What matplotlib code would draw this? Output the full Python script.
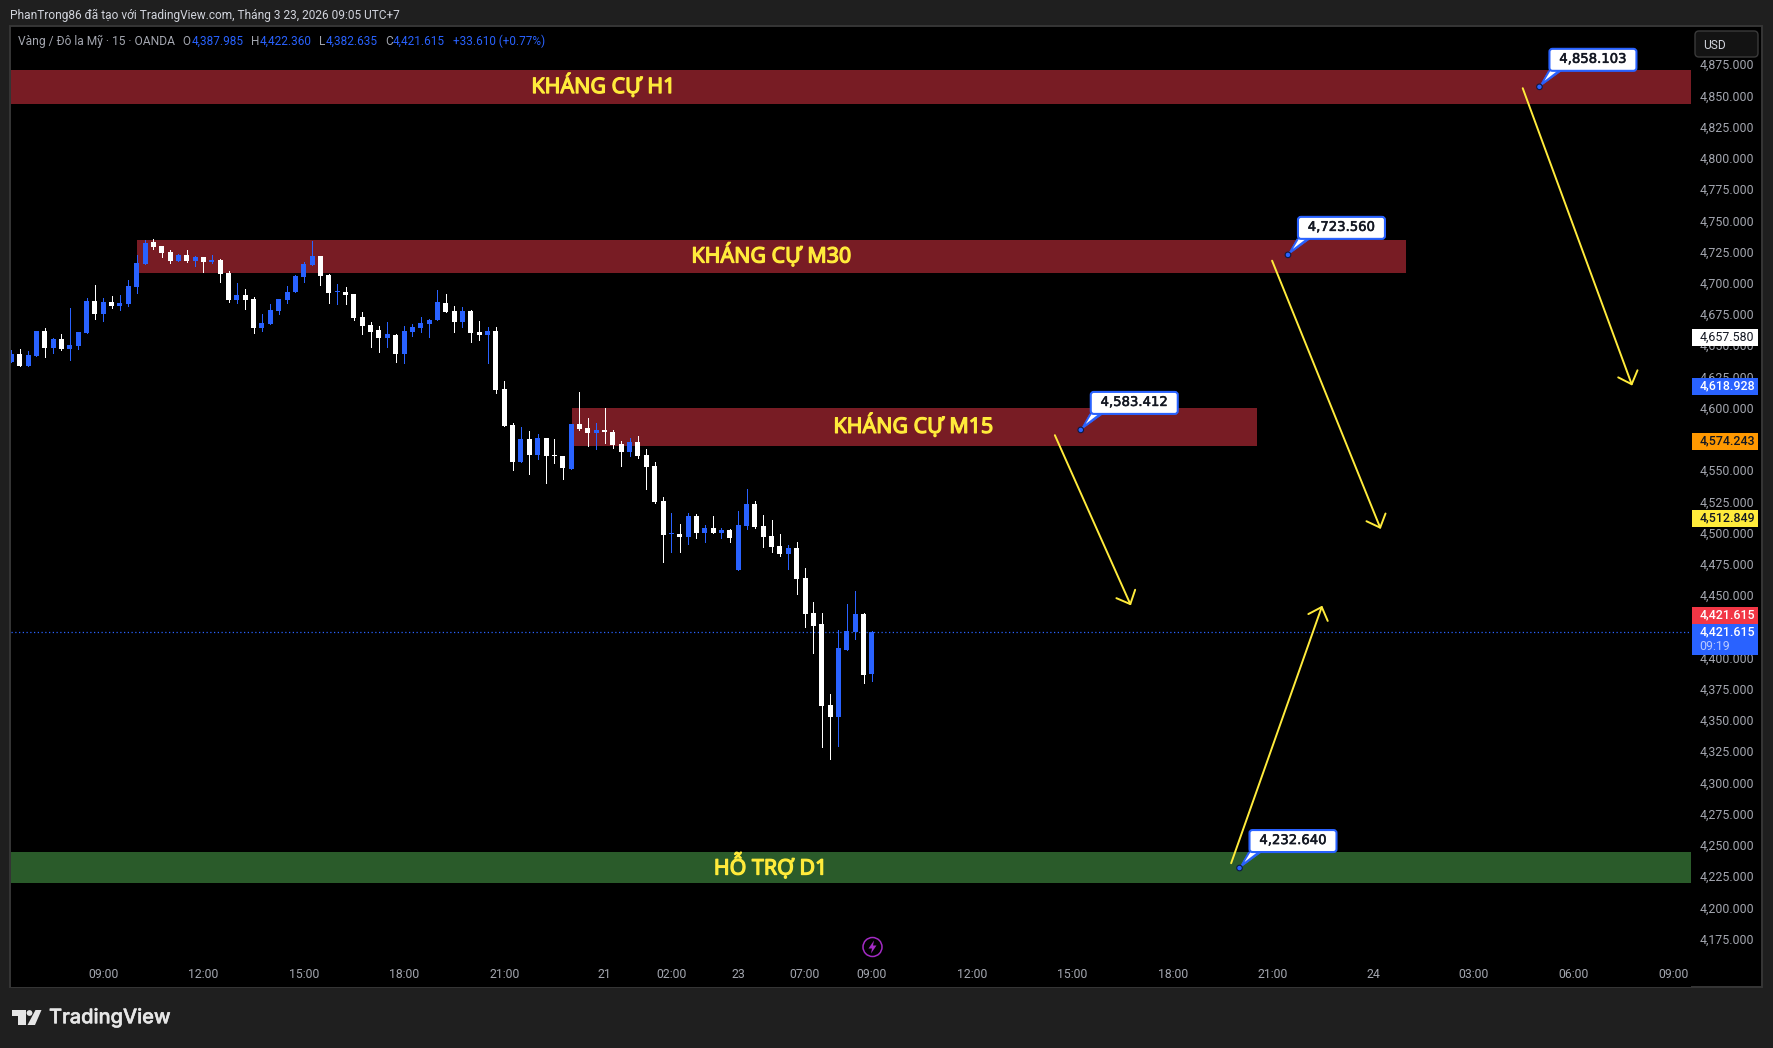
#!/usr/bin/env python3
import matplotlib
matplotlib.use('Agg')
import matplotlib.pyplot as plt
import matplotlib.patheffects as pe
from matplotlib.patches import Rectangle, FancyBboxPatch, Polygon, Circle
from matplotlib.transforms import Affine2D

W, H = 1773, 1048
BG = '#1f1f1f'
BLUE = '#2962ff'
YELLOW = '#ffeb3b'
GREY = '#a3a6af'
FONT = ['Roboto', 'DejaVu Sans']

# Candles, left to right, 15 minute bars
opens = [4637.8, 4644.2, 4634.6, 4642.6, 4662.6, 4649.0, 4656.2, 4648.2, 4650.6, 4661.0,
         4686.6, 4676.2, 4685.8, 4682.6, 4684.2, 4697.9, 4716.3, 4733.9, 4730.7, 4725.9,
         4718.7, 4723.5, 4718.7, 4721.9, 4717.9, 4719.5, 4709.1, 4687.4, 4691.4, 4688.2,
         4665.0, 4668.2, 4678.6, 4687.4, 4693.8, 4705.9, 4715.5, 4722.7, 4707.5, 4693.8,
         4693.8, 4692.2, 4673.8, 4667.4, 4663.4, 4657.0, 4659.4, 4644.2, 4661.8, 4665.0,
         4668.2, 4671.4, 4685.0, 4678.6, 4669.8, 4678.6, 4661.8, 4659.4, 4662.6, 4616.2,
         4587.4, 4557.7, 4576.2, 4563.3, 4577.0, 4563.3, 4562.5, 4552.1, 4588.2, 4585.0,
         4581.0, 4583.4, 4581.8, 4572.2, 4565.8, 4573.8, 4563.4, 4554.5, 4526.5, 4500.1,
         4500.1, 4497.7, 4514.5, 4500.9, 4504.9, 4500.9, 4503.3, 4471.3, 4506.5, 4524.1,
         4506.5, 4498.5, 4490.5, 4484.1, 4488.9, 4464.9, 4436.8, 4428.0, 4363.2, 4353.6,
         4407.2, 4421.6, 4436.0, 4387.985]
highs = [4647.4, 4648.2, 4646.6, 4662.6, 4665.0, 4657.0, 4660.2, 4681.0, 4661.8, 4689.0,
         4699.5, 4689.0, 4690.6, 4691.4, 4703.5, 4723.5, 4735.5, 4736.3, 4730.7, 4727.5,
         4724.3, 4727.5, 4722.7, 4721.9, 4723.5, 4720.3, 4710.7, 4701.1, 4696.3, 4689.8,
         4676.2, 4684.2, 4688.2, 4698.7, 4707.5, 4717.9, 4734.7, 4722.7, 4708.3, 4700.3,
         4697.9, 4692.2, 4677.8, 4669.8, 4666.6, 4669.8, 4660.2, 4666.6, 4668.2, 4673.8,
         4672.2, 4695.4, 4692.2, 4682.6, 4681.8, 4679.4, 4670.6, 4665.8, 4665.8, 4622.6,
         4589.0, 4585.8, 4582.6, 4580.2, 4577.0, 4576.2, 4562.5, 4588.2, 4613.8, 4593.0,
         4589.0, 4601.0, 4583.4, 4574.6, 4577.0, 4578.6, 4568.2, 4557.7, 4529.7, 4516.9,
         4508.1, 4516.9, 4516.1, 4507.3, 4514.5, 4504.9, 4504.1, 4518.5, 4536.1, 4526.5,
         4515.3, 4511.3, 4500.1, 4491.3, 4493.7, 4472.9, 4445.6, 4436.8, 4372.0, 4423.2,
         4444.0, 4454.5, 4436.8, 4422.36]
lows = [4637.8, 4634.6, 4634.6, 4642.6, 4641.8, 4645.0, 4647.4, 4639.4, 4648.2, 4661.0,
        4672.2, 4670.6, 4681.0, 4679.4, 4682.6, 4693.0, 4716.3, 4728.3, 4721.9, 4717.1,
        4718.7, 4717.9, 4714.7, 4709.9, 4717.1, 4701.9, 4685.8, 4685.0, 4680.2, 4661.0,
        4662.6, 4668.2, 4676.2, 4685.0, 4693.8, 4701.9, 4715.5, 4699.5, 4685.0, 4684.2,
        4684.2, 4671.4, 4660.2, 4649.8, 4645.8, 4649.8, 4637.8, 4637.0, 4658.6, 4661.8,
        4657.8, 4671.4, 4677.8, 4661.8, 4665.8, 4653.8, 4655.4, 4637.0, 4613.0, 4586.6,
        4551.3, 4557.7, 4548.1, 4560.1, 4540.9, 4556.9, 4544.1, 4552.1, 4583.4, 4570.6,
        4568.2, 4573.0, 4569.0, 4554.5, 4562.6, 4561.0, 4536.1, 4524.9, 4477.7, 4485.7,
        4485.7, 4492.1, 4496.9, 4493.7, 4500.9, 4496.9, 4493.7, 4471.3, 4504.1, 4504.9,
        4489.7, 4485.7, 4482.5, 4472.1, 4452.1, 4425.6, 4404.8, 4329.6, 4320.0, 4330.4,
        4407.2, 4416.0, 4380.8, 4382.635]
closes = [4644.2, 4634.6, 4643.4, 4662.6, 4649.0, 4656.2, 4648.2, 4651.4, 4661.8, 4686.6,
          4676.2, 4685.8, 4682.6, 4685.0, 4698.7, 4717.1, 4733.1, 4729.9, 4725.1, 4718.7,
          4723.5, 4718.7, 4721.9, 4717.9, 4719.5, 4708.3, 4687.4, 4691.4, 4687.4, 4665.0,
          4669.0, 4679.4, 4688.2, 4693.8, 4706.7, 4716.3, 4722.7, 4706.7, 4693.0, 4694.6,
          4691.4, 4673.0, 4666.6, 4661.8, 4657.0, 4660.2, 4644.2, 4662.6, 4665.8, 4669.0,
          4671.4, 4685.8, 4677.8, 4669.8, 4678.6, 4661.0, 4659.4, 4662.6, 4615.4, 4586.6,
          4557.7, 4576.2, 4563.3, 4577.0, 4562.5, 4562.5, 4552.9, 4588.2, 4584.2, 4581.0,
          4583.4, 4581.8, 4571.4, 4565.8, 4573.8, 4562.6, 4553.7, 4525.7, 4499.3, 4500.9,
          4497.7, 4514.5, 4500.9, 4504.9, 4500.9, 4503.3, 4496.9, 4507.3, 4524.1, 4505.7,
          4497.7, 4489.7, 4484.1, 4488.9, 4464.1, 4436.0, 4426.4, 4362.4, 4353.6, 4408.8,
          4422.4, 4436.0, 4387.2, 4421.615]

# Zones drawn on the chart
zone_names = ['KHÁNG CỰ H1', 'KHÁNG CỰ M30', 'KHÁNG CỰ M15', 'HỖ TRỢ D1']
zone_tops = [4871.6, 4735.5, 4601.0, 4245.5]
zone_bottoms = [4844.4, 4709.1, 4570.8, 4220.7]
zone_starts = [-1, 15.05, 67.05, -1]
zone_ends = [202, 166.95, 149.05, 202]
zone_label_bars = [70.85, 90.95, 107.95, 90.85]
zone_colors = ['#781c24', '#781c24', '#781c24', '#2a5b2a']

# Yellow trend arrows
arrow_start_bars = [124.9, 150.9, 180.9, 146.0]
arrow_start_prices = [4579.2, 4718.9, 4857.0, 4236.5]
arrow_end_bars = [134.0, 163.9, 194.0, 156.9]
arrow_end_prices = [4442.9, 4504.1, 4618.9, 4442.7]

# Price callouts
note_bars = [182.9, 152.8, 128.0, 147.0]
note_prices = [4858.103, 4723.560, 4583.412, 4232.640]

# Axis labels
price_ticks = list(range(4175, 4900, 25))
time_bars = [11, 23, 35, 47, 59, 71, 79, 87, 95, 103, 115, 127, 139, 151, 163, 175, 187, 199]
time_labels = ['09:00', '12:00', '15:00', '18:00', '21:00', '21', '02:00', '23', '07:00', '09:00',
               '12:00', '15:00', '18:00', '21:00', '24', '03:00', '06:00', '09:00']

# Coloured tags on the price scale
tag_texts = ['4,657.580', '4,618.928', '4,574.243', '4,512.849', '4,421.615']
tag_fills = ['#ffffff', BLUE, '#ff9800', YELLOW, '#f23645']
tag_inks = ['#131722', '#ffffff', '#131722', '#131722', '#ffffff']
tag_tops = [329, 378, 433, 510, 607]

# Pixel transform, origin top left like the screenshot
PX = Affine2D().scale(1, -1).translate(0, H)


def px_text(fig, x, y, s, color, size=12, **kw):
    """Put text on the figure, with position and size given in pixels."""
    kw.setdefault('va', 'center')
    kw.setdefault('family', FONT)
    return fig.text(x, y, s, color=color, fontsize=size * 0.72, transform=PX, **kw)


def draw_frame(fig):
    """Black pane behind the chart plus the border."""
    fig.add_artist(Rectangle((10, 26), 1752, 961, transform=PX, fc='#000000',
                             ec='#363636', lw=1.4, zorder=-1))


def draw_candles(ax):
    x = range(len(opens))
    colors = [BLUE if c >= o else '#ffffff' for o, c in zip(opens, closes)]
    ax.vlines(x, lows, highs, colors=colors, lw=0.72, zorder=3, antialiased=False)
    bottoms = [min(o, c) for o, c in zip(opens, closes)]
    heights = [max(abs(o - c), 0.8) for o, c in zip(opens, closes)]
    ax.bar(x, heights, bottom=bottoms, width=0.6, color=colors, lw=0, zorder=3, antialiased=False)


def draw_zones(ax):
    for i, name in enumerate(zone_names):
        ax.add_patch(Rectangle((zone_starts[i], zone_bottoms[i]), zone_ends[i] - zone_starts[i],
                               zone_tops[i] - zone_bottoms[i], fc=zone_colors[i], lw=0, zorder=1))
        ax.text(zone_label_bars[i], (zone_tops[i] + zone_bottoms[i]) / 2 + 0.8, name, color=YELLOW,
                fontsize=15.4, family=['Noto Sans', 'DejaVu Sans'], ha='center', va='center', zorder=5,
                path_effects=[pe.withStroke(linewidth=0.9, foreground=YELLOW)])


def draw_arrows(ax):
    for i in range(len(arrow_start_bars)):
        ax.annotate('', xy=(arrow_end_bars[i], arrow_end_prices[i]),
                    xytext=(arrow_start_bars[i], arrow_start_prices[i]),
                    arrowprops=dict(arrowstyle='->,head_length=0.8,head_width=0.74', mutation_scale=10,
                                    color=YELLOW, lw=1.4, shrinkA=0, shrinkB=0), zorder=4)


def draw_notes(fig, ax):
    """White price callouts with a small wedge pointing at the anchor dot."""
    for bar, price in zip(note_bars, note_prices):
        ax_x, ax_y = ax.transData.transform((bar, price))
        x, y = ax_x, H - ax_y
        left, right, top, bottom = x + 10, x + 97, y - 38, y - 16
        fig.add_artist(Polygon([(x, y), (left - 1, bottom), (left + 12, bottom)], transform=PX,
                               fc=BLUE, ec=BLUE, lw=0.5, zorder=5))
        fig.add_artist(Polygon([(x + 5, y - 6), (left + 1, bottom), (left + 8, bottom)], transform=PX,
                               fc='#ffffff', lw=0, zorder=5))
        fig.add_artist(FancyBboxPatch((left, top), right - left, bottom - top,
                                      boxstyle='round,pad=0,rounding_size=3', transform=PX,
                                      fc='#ffffff', ec=BLUE, lw=1.5, zorder=6))
        fig.add_artist(Circle((x, y), 2.8, transform=PX, fc=BLUE, ec='#0b1a44', lw=0.8, zorder=7))
        px_text(fig, (left + right) / 2, (top + bottom) / 2 - 0.5, f'{price:,.3f}', '#131722', size=13.2,
                ha='center', family=['DejaVu Sans'], zorder=8,
                path_effects=[pe.withStroke(linewidth=0.4, foreground='#131722')])


def draw_price_tags(fig):
    for text, fill, ink, top in zip(tag_texts, tag_fills, tag_inks, tag_tops):
        fig.add_artist(Rectangle((1692, top), 66, 17, transform=PX, fc=fill, lw=0, zorder=3))
        px_text(fig, 1699.5, top + 8, text, ink, size=12.4, zorder=4,
                fontweight='medium' if fill != '#ffffff' else 'normal')
    # last price with the bar countdown under it
    fig.add_artist(Rectangle((1692, 624), 66, 31, transform=PX, fc=BLUE, lw=0, zorder=3))
    px_text(fig, 1699.5, 632, tag_texts[-1], '#ffffff', size=12.4, zorder=4, fontweight='medium')
    px_text(fig, 1699.5, 646, '09:19', '#b9c9ff', size=12.4, zorder=4)
    # currency button
    fig.add_artist(FancyBboxPatch((1695, 31), 63, 26, boxstyle='round,pad=0,rounding_size=4',
                                  transform=PX, fc='#131313', ec='#3a3a3a', lw=1, zorder=3))
    px_text(fig, 1703, 45.5, 'USD', '#d1d4dc', zorder=4)


def draw_header(fig):
    px_text(fig, 9.5, 15, 'PhanTrong86 đã tạo với TradingView.com, Tháng 3 23, 2026 09:05 UTC+7', '#d1d4dc', size=11.9)
    px_text(fig, 18, 41.7, 'Vàng / Đô la Mỹ · 15 · OANDA', GREY)
    parts = [(182.5, 'O', GREY), (191.5, '4,387.985', BLUE), (251, 'H', GREY), (260, '4,422.360', BLUE),
             (319.5, 'L', GREY), (325.4, '4,382.635', BLUE), (385.5, 'C', GREY), (392.6, '4,421.615', BLUE),
             (453, '+33.610 (+0.77%)', BLUE)]
    for x, s, color in parts:
        px_text(fig, x, 41.7, s, color, size=11.8)


def draw_logo(fig):
    ink = '#e6e6e6'
    fig.add_artist(Polygon([(12, 1010), (26, 1010), (26, 1025), (18, 1025), (18, 1016), (12, 1016)],
                           transform=PX, fc=ink, lw=0))
    fig.add_artist(Circle((29.5, 1013), 2.9, transform=PX, fc=ink, lw=0))
    fig.add_artist(Polygon([(35.5, 1010), (41.5, 1010), (35, 1025), (27.5, 1025)],
                           transform=PX, fc=ink, lw=0))
    px_text(fig, 49, 1018, 'TradingView', ink, size=20, family=['Inter', 'Roboto'], fontweight='medium',
            path_effects=[pe.withStroke(linewidth=0.4, foreground=ink)])


def draw_bolt(fig):
    purple = '#a32bc4'
    fig.add_artist(Circle((872.5, 947), 9.5, transform=PX, fc='none', ec=purple, lw=1.1))
    fig.add_artist(Polygon([(874, 940.5), (868.5, 948.5), (872, 948.5), (871, 953.5), (876.5, 945.5), (873, 945.5)],
                           transform=PX, fc=purple, lw=0))


def main():
    fig = plt.figure(figsize=(W / 100, H / 100), dpi=100, facecolor=BG)
    ax = fig.add_axes([11 / W, (H - 987) / H, 1680 / W, 960 / H])
    ax.set_facecolor('#000000')
    for spine in ax.spines.values():
        spine.set_visible(False)

    ax.set_xlim(-0.04, 201.04)
    ax.set_ylim(4137.4, 4906.0)

    ax.yaxis.tick_right()
    ax.set_yticks(price_ticks)
    ax.set_yticklabels([f'{p:,.3f}' for p in price_ticks], family=FONT, fontsize=12.4 * 0.72, color=GREY)
    ax.tick_params(axis='y', length=0, pad=6.2)
    for label in ax.get_yticklabels():
        label.set_transform(label.get_transform() + Affine2D().translate(0, 1.5))
    ax.set_xticks(time_bars)
    ax.set_xticklabels(time_labels, family=FONT, fontsize=12.2 * 0.72, color=GREY)
    ax.tick_params(axis='x', length=0, pad=-13.6)

    draw_frame(fig)
    draw_zones(ax)
    ax.axhline(closes[-1], color=BLUE, lw=0.9, linestyle=(0, (1, 2)), zorder=2)
    draw_candles(ax)
    draw_arrows(ax)
    draw_notes(fig, ax)
    draw_price_tags(fig)
    draw_header(fig)
    draw_logo(fig)
    draw_bolt(fig)

    fig.savefig('out.png', dpi=100, facecolor=BG)
    plt.close(fig)


if __name__ == "__main__":
    main()
